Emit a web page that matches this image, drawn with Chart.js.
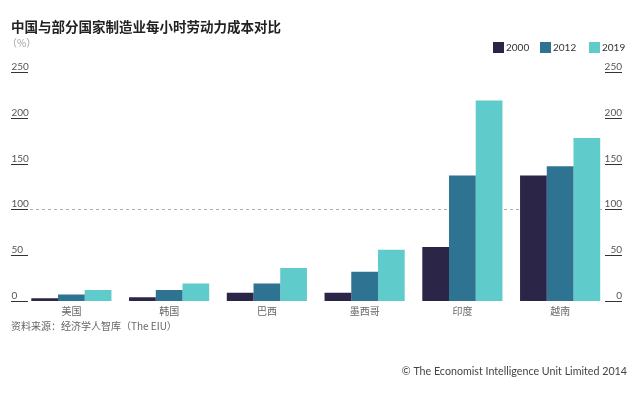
<!DOCTYPE html>
<html>
<head>
<meta charset="utf-8">
<script src="https://cdn.jsdelivr.net/npm/chart.js@4/dist/chart.umd.min.js"></script>
<style>
html,body{margin:0;padding:0;background:#fff;}
#c{display:block;}
</style>
</head>
<body>
<canvas id="c" width="640" height="393"></canvas>
<script>
const categories = ['美国', '韩国', '巴西', '墨西哥', '印度', '越南'];
const seriesLabels = ['2000', '2012', '2019'];
const values2000 = [3, 4, 9, 9, 59, 137];
const values2012 = [7, 12, 19, 32, 137, 147];
const values2019 = [12, 19, 36, 56, 219, 178];
const yTickValues = [0, 50, 100, 150, 200, 250];
const referenceValue = 100;

const titleText = '中国与部分国家制造业每小时劳动力成本对比';
const unitText = '（%）';
const sourceText = '资料来源：经济学人智库（The EIU）';
const footerText = '© The Economist Intelligence Unit Limited 2014';

const colors = ['#2b2548', '#2e7492', '#60cbcb'];
const CJK = '"Noto Sans CJK SC", "Noto Sans", sans-serif';
const LAT = 'Lato, "Noto Sans", sans-serif';

const decor = {
  id: 'decor',
  beforeDatasetsDraw(chart) {
    const ctx = chart.ctx;
    const y = chart.scales.y.getPixelForValue(referenceValue);
    ctx.save();
    ctx.strokeStyle = '#b0b0b0';
    ctx.lineWidth = 1;
    ctx.setLineDash([3, 3]);
    ctx.beginPath();
    ctx.moveTo(30, Math.round(y) + 0.5);
    ctx.lineTo(602, Math.round(y) + 0.5);
    ctx.stroke();
    ctx.restore();
  },
  afterDraw(chart) {
    const ctx = chart.ctx;
    const ys = chart.scales.y;
    ctx.save();
    ctx.font = '10px ' + LAT;
    ctx.textBaseline = 'alphabetic';
    yTickValues.forEach(v => {
      const y = Math.round(ys.getPixelForValue(v)) + 0.5;
      ctx.strokeStyle = '#333';
      ctx.lineWidth = 1.2;
      ctx.beginPath();
      ctx.moveTo(11, y); ctx.lineTo(28, y);
      ctx.moveTo(605, y); ctx.lineTo(622, y);
      ctx.stroke();
      ctx.fillStyle = '#555';
      ctx.textAlign = 'left';
      ctx.fillText(String(v), 11.5, y - 2.5);
      ctx.textAlign = 'right';
      ctx.fillText(String(v), 622, y - 2.5);
    });
    const lx = [493, 540, 589];
    chart.data.datasets.forEach((ds, i) => {
      ctx.fillStyle = ds.backgroundColor;
      ctx.fillRect(lx[i], 42, 11, 11);
      ctx.fillStyle = '#333';
      ctx.textAlign = 'left';
      ctx.textBaseline = 'middle';
      ctx.font = '10px ' + LAT;
      ctx.fillText(ds.label, lx[i] + 13, 47.5);
    });
    ctx.fillStyle = '#222';
    ctx.textAlign = 'left';
    ctx.textBaseline = 'middle';
    ctx.font = 'bold 13.5px ' + CJK;
    ctx.fillText(titleText, 11, 27);
    ctx.fillStyle = '#a0a0a0';
    ctx.font = '10px ' + CJK;
    ctx.fillText(unitText, 7, 43);
    ctx.fillStyle = '#666';
    ctx.font = '10px ' + CJK;
    ctx.fillText(sourceText, 11, 326);
    ctx.fillStyle = '#444';
    ctx.textAlign = 'right';
    ctx.font = '10.7px ' + LAT;
    ctx.fillText(footerText, 627, 372);
    ctx.restore();
  }
};

new Chart(document.getElementById('c'), {
  type: 'bar',
  data: {
    labels: categories,
    datasets: [
      { label: seriesLabels[0], data: values2000, backgroundColor: colors[0] },
      { label: seriesLabels[1], data: values2012, backgroundColor: colors[1] },
      { label: seriesLabels[2], data: values2019, backgroundColor: colors[2] }
    ]
  },
  options: {
    responsive: false,
    animation: false,
    devicePixelRatio: 1,
    layout: { padding: { left: 22.5, right: 31, top: 72, bottom: 0 } },
    datasets: { bar: { barPercentage: 1.0, categoryPercentage: 0.82, borderWidth: 0 } },
    plugins: { legend: { display: false }, title: { display: false }, tooltip: { enabled: false } },
    scales: {
      x: {
        offset: true,
        grid: { display: false, drawTicks: false },
        border: { display: false },
        ticks: { color: '#666', font: { size: 10, family: CJK }, padding: 4, maxRotation: 0, autoSkip: false },
        afterFit: s => { s.height = 92; }
      },
      y: { display: false, min: 0, max: 250 }
    }
  },
  plugins: [decor]
});
</script>
</body>
</html>
